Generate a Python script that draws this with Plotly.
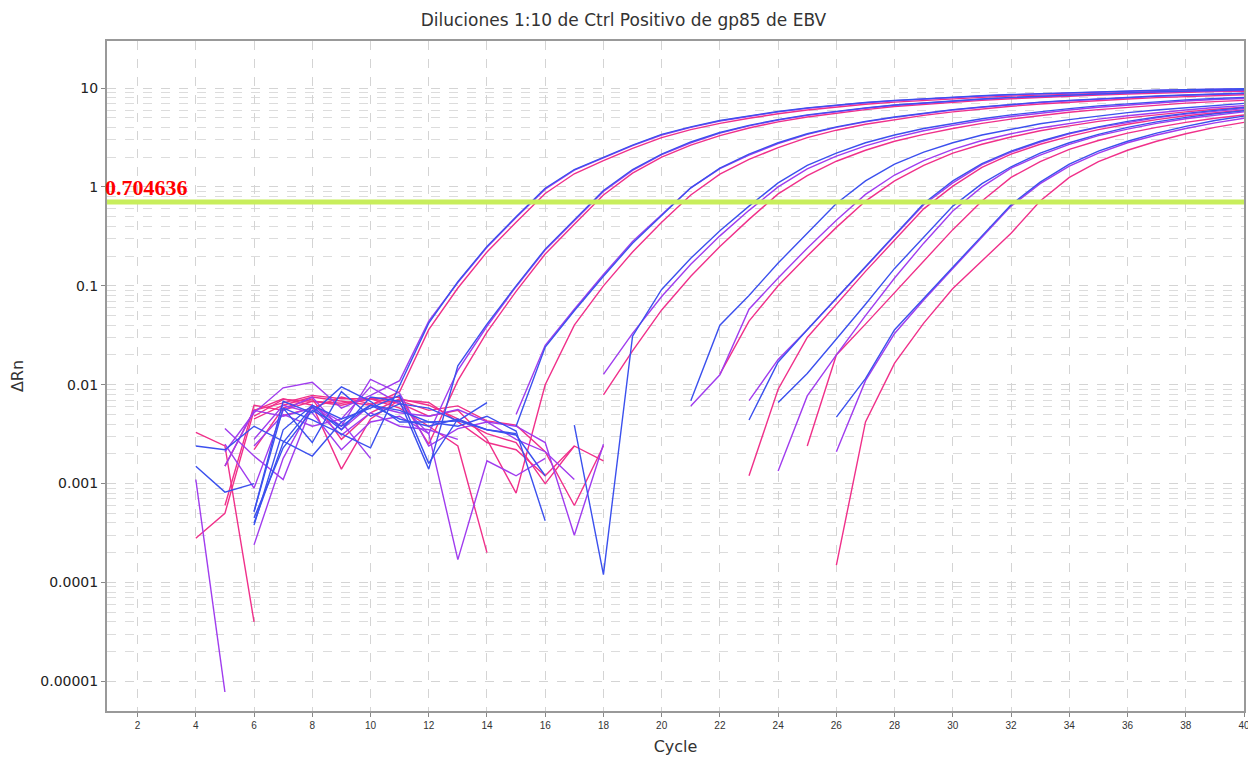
import math
import plotly.graph_objects as go

N = None
title_text = "Diluciones 1:10 de Ctrl Positivo de gp85 de EBV"
threshold = 0.704636
x_ticks = list(range(2, 41, 2))
y_ticks = [0.00001, 0.0001, 0.001, 0.01, 0.1, 1, 10]
y_tick_text = ["0.00001", "0.0001", "0.001", "0.01", "0.1", "1", "10"]

# Each well: first cycle, then ΔRn per cycle (None = not plotted, <= 0)
g1_blue_start = 6
g1_blue = [0.00052, 0.0058, 0.0044, 0.0032, 0.0023, 0.0098, 0.042, 0.11, 0.25, 0.5, 0.97, 1.5, 2.0, 2.65, 3.4,
           4.05, 4.7, 5.25, 5.8, 6.3, 6.75, 7.15, 7.5, 7.8, 8.1, 8.35, 8.6, 8.8, 9.0, 9.2, 9.35, 9.5, 9.65, 9.75, 9.85]
g1_purple_start = 5
g1_purple = [0.0021, 0.0052, 0.0093, 0.0106, 0.0058, 0.0078, 0.011, 0.044, 0.108, 0.245, 0.49, 0.95, 1.48, 1.98,
             2.62, 3.35, 4.0, 4.65, 5.2, 5.75, 6.25, 6.7, 7.1, 7.45, 7.75, 8.05, 8.3, 8.55, 8.75, 8.95, 9.15, 9.3,
             9.45, 9.6, 9.7, 9.8]
g1_pink_start = 6
g1_pink = [0.0045, 0.0062, 0.0075, 0.0068, 0.0062, 0.0085, 0.036, 0.095, 0.22, 0.44, 0.86, 1.36, 1.85, 2.45, 3.15,
           3.8, 4.4, 4.95, 5.5, 6.0, 6.45, 6.85, 7.2, 7.5, 7.8, 8.05, 8.3, 8.5, 8.7, 8.9, 9.05, 9.2, 9.35, 9.45, 9.55]

g2_blue_start = 6
g2_blue = [0.0004, 0.0026, 0.006, 0.0035, 0.0075, 0.0068, 0.0014, 0.0155, 0.041, 0.1, 0.235, 0.47, 0.92, 1.5, 2.15,
           2.85, 3.55, 4.2, 4.8, 5.35, 5.85, 6.3, 6.75, 7.1, 7.45, 7.75, 8.05, 8.3, 8.55, 8.75, 8.95, 9.15, 9.3,
           9.45, 9.6]
g2_purple_start = 6
g2_purple = [0.0024, 0.005, 0.0038, 0.0045, 0.0095, 0.0064, 0.0032, 0.014, 0.039, 0.098, 0.23, 0.46, 0.9, 1.47,
             2.12, 2.8, 3.5, 4.15, 4.75, 5.3, 5.8, 6.25, 6.7, 7.05, 7.4, 7.7, 8.0, 8.25, 8.5, 8.7, 8.9, 9.1, 9.25,
             9.4, 9.5]
g2_pink_start = 5
g2_pink = [0.0006, 0.0062, 0.0055, 0.0068, 0.0065, 0.0072, 0.0075, 0.0025, 0.011, 0.034, 0.088, 0.21, 0.42, 0.83,
           1.38, 2.0, 2.65, 3.3, 3.95, 4.55, 5.1, 5.6, 6.05, 6.5, 6.85, 7.2, 7.5, 7.8, 8.05, 8.3, 8.5, 8.7, 8.9,
           9.05, 9.2, 9.3]

g3_blue_start = 4
g3_blue = [0.0024, 0.0022, 0.0038, 0.0027, 0.0019, 0.0042, 0.0062, 0.0045, 0.0038, 0.0045, N, 0.0038, 0.024,
           0.056, 0.125, 0.27, 0.52, 0.98, 1.55, 2.15, 2.8, 3.45, 4.05, 4.6, 5.1, 5.6, 6.05, 6.45, 6.85, 7.2, 7.5,
           7.8, 8.05, 8.3, 8.5, 8.7, 8.85]
g3_purple_start = 5
g3_purple = [0.0015, 0.0055, 0.0048, 0.0058, 0.0031, 0.0052, 0.0038, 0.0035, 0.0028, N, 0.005, 0.025, 0.058, 0.13,
             0.28, 0.53, 0.98, 1.53, 2.1, 2.75, 3.4, 4.0, 4.55, 5.05, 5.55, 6.0, 6.4, 6.8, 7.15, 7.45, 7.75, 8.0,
             8.25, 8.45, 8.65, 8.8]
g3_pink_start = 4
g3_pink = [0.00028, 0.0005, 0.0055, 0.0066, 0.0078, 0.0072, 0.0072, 0.0065, 0.0048, 0.0055, 0.0028, 0.0008, 0.01,
           0.04, 0.1, 0.22, 0.44, 0.83, 1.35, 1.9, 2.5, 3.15, 3.75, 4.3, 4.8, 5.3, 5.75, 6.15, 6.55, 6.9, 7.2, 7.5,
           7.75, 8.0, 8.2, 8.4, 8.55]

g4_blue_start = 6
g4_blue = [0.00052, 0.0068, 0.0052, 0.0095, 0.0068, 0.0042, 0.0042, 0.0043, 0.0035, 0.0032, N, 0.0039, 0.00012,
           0.031, 0.092, 0.19, 0.36, 0.64, 1.1, 1.65, 2.2, 2.8, 3.35, 3.9, 4.4, 4.9, 5.35, 5.8, 6.2, 6.6, 6.95,
           7.3, 7.6, 7.85, 8.05]
g4_purple_start = 5
g4_purple = [0.0036, 0.0019, 0.0011, 0.0062, 0.0042, 0.0018, N, N, N, N, N, N, N, 0.0127, 0.033, 0.078, 0.165,
             0.32, 0.58, 1.0, 1.52, 2.05, 2.6, 3.15, 3.7, 4.2, 4.7, 5.15, 5.6, 6.0, 6.4, 6.75, 7.1, 7.4, 7.65, 7.85]
g4_pink_start = 4
g4_pink = [0.0033, 0.0024, 0.00004, N, N, N, N, N, N, N, N, N, N, N, 0.0079, 0.022, 0.057, 0.125, 0.25, 0.47,
           0.85, 1.3, 1.82, 2.35, 2.9, 3.4, 3.9, 4.4, 4.85, 5.3, 5.7, 6.05, 6.4, 6.75, 7.05, 7.3, 7.5]

g5_blue_start = 4
g5_blue = [0.0015, 0.00082, 0.001, N, N, N, N, N, N, N, N, N, N, N, N, N, N, 0.0069, 0.04, 0.08, 0.17, 0.34, 0.68,
           1.15, 1.7, 2.25, 2.8, 3.35, 3.85, 4.35, 4.8, 5.25, 5.65, 6.0, 6.35, 6.7, 7.0]
g5_purple_start = 4
g5_purple = [0.0011, 0.0000078, N, N, N, N, N, N, N, N, N, N, N, N, N, N, N, 0.0061, 0.0126, 0.058, 0.12, 0.24,
             0.46, 0.84, 1.32, 1.85, 2.4, 2.95, 3.45, 3.95, 4.4, 4.85, 5.25, 5.65, 6.0, 6.35, 6.65]
g5_pink_start = 6
g5_pink = [0.0022, 0.0058, 0.0072, 0.0028, 0.0052, 0.0072, 0.0062, 0.0045, 0.0032, 0.0026, 0.001, 0.0024, N, N,
           N, N, 0.0128, 0.044, 0.1, 0.2, 0.39, 0.72, 1.15, 1.65, 2.2, 2.7, 3.2, 3.7, 4.15, 4.6, 5.0, 5.4, 5.75,
           6.1, 6.4]

g6_blue_start = 6
g6_blue = [0.00038, 0.0035, 0.0062, 0.0045, 0.0058, 0.0078, 0.0016, 0.0045, 0.0035, 0.0031, 0.0012, N, N, N, N,
           N, N, 0.0044, 0.017, 0.036, 0.075, 0.16, 0.33, 0.68, 1.15, 1.72, 2.3, 2.9, 3.5, 4.05, 4.6, 5.1, 5.55,
           5.95, 6.35]
g6_purple_start = 6
g6_purple = [0.00024, 0.0018, 0.0062, 0.0038, 0.0113, 0.0082, 0.0024, 0.0036, 0.0042, 0.0038, 0.0026, 0.0003,
             0.0025, N, N, N, N, 0.0069, 0.018, 0.036, 0.074, 0.155, 0.32, 0.66, 1.1, 1.68, 2.25, 2.85, 3.45, 4.0,
             4.5, 5.0, 5.45, 5.85, 6.2]
g6_pink_start = 5
g6_pink = [0.0015, 0.0055, 0.0072, 0.0062, 0.0014, 0.0045, 0.007, 0.0066, 0.0042, 0.0026, 0.0022, 0.0012, 0.0024,
           0.0017, N, N, N, N, 0.0012, 0.009, 0.03, 0.064, 0.14, 0.29, 0.6, 1.02, 1.58, 2.15, 2.7, 3.25, 3.8, 4.3,
           4.8, 5.25, 5.65, 6.0]

g7_blue_start = 6
g7_blue = [0.00045, 0.0023, 0.0055, 0.0038, 0.0062, 0.0055, 0.0042, 0.0038, 0.0048, 0.0034, 0.00042, N, N, N, N,
           N, N, N, 0.0066, 0.013, 0.029, 0.065, 0.15, 0.31, 0.64, 1.08, 1.6, 2.2, 2.8, 3.4, 4.0, 4.55, 5.05, 5.5,
           5.9]
g7_purple_start = 6
g7_purple = [0.0028, 0.0062, 0.0052, 0.0022, 0.0042, 0.0048, 0.0032, 0.00017, 0.0017, 0.0012, 0.0018, N, N, N, N,
             N, N, N, 0.00134, 0.0077, 0.02, 0.05, 0.12, 0.27, 0.57, 1.0, 1.55, 2.1, 2.7, 3.3, 3.85, 4.4, 4.9,
             5.35, 5.75]
g7_pink_start = 6
g7_pink = [0.0048, 0.0071, 0.0068, 0.0062, 0.0072, 0.0058, 0.0038, 0.0024, 0.0002, N, N, N, N, N, N, N, N, N, N,
           0.0024, 0.02, 0.041, 0.085, 0.18, 0.37, 0.72, 1.25, 1.8, 2.4, 2.95, 3.5, 4.0, 4.5, 4.95, 5.35]

g8_blue_start = 7
g8_blue = [0.0058, 0.0026, 0.0085, 0.0048, 0.0064, 0.0058, 0.0043, 0.0066, N, N, N, N, N, N, N, N, N, N, N, 0.0047,
           0.0115, 0.036, 0.075, 0.155, 0.32, 0.66, 1.12, 1.7, 2.3, 2.9, 3.5, 4.1, 4.7, 5.2]
g8_purple_start = 5
g8_purple = [0.0025, 0.0009, 0.0055, 0.0075, 0.0035, 0.0062, 0.0052, 0.0048, 0.0056, 0.0042, 0.0028, 0.0021,
             0.0011, N, N, N, N, N, N, N, N, 0.0021, 0.011, 0.033, 0.072, 0.15, 0.31, 0.64, 1.08, 1.62, 2.2, 2.8,
             3.35, 3.9, 4.45, 4.95]
g8_pink_start = 7
g8_pink = [0.0049, 0.0058, 0.0075, 0.0064, 0.0069, 0.0055, 0.0061, 0.0043, 0.0039, 0.0021, 0.0006, 0.0024, N, N,
           N, N, N, N, N, 0.00015, 0.0042, 0.0165, 0.042, 0.094, 0.18, 0.34, 0.72, 1.25, 1.8, 2.35, 2.9, 3.45,
           4.0, 4.5]

BLUE = "#3b50ee"
PURPLE = "#a03cee"
PINK = "#f0308a"

wells = [
    ("G1", g1_pink_start, g1_pink, PINK), ("G2", g2_pink_start, g2_pink, PINK), ("G3", g3_pink_start, g3_pink, PINK),
    ("G4", g4_pink_start, g4_pink, PINK), ("G5", g5_pink_start, g5_pink, PINK), ("G6", g6_pink_start, g6_pink, PINK),
    ("G7", g7_pink_start, g7_pink, PINK), ("G8", g8_pink_start, g8_pink, PINK),
    ("G1", g1_purple_start, g1_purple, PURPLE), ("G2", g2_purple_start, g2_purple, PURPLE),
    ("G3", g3_purple_start, g3_purple, PURPLE), ("G4", g4_purple_start, g4_purple, PURPLE),
    ("G5", g5_purple_start, g5_purple, PURPLE), ("G6", g6_purple_start, g6_purple, PURPLE),
    ("G7", g7_purple_start, g7_purple, PURPLE), ("G8", g8_purple_start, g8_purple, PURPLE),
    ("G1", g1_blue_start, g1_blue, BLUE), ("G2", g2_blue_start, g2_blue, BLUE), ("G3", g3_blue_start, g3_blue, BLUE),
    ("G4", g4_blue_start, g4_blue, BLUE), ("G5", g5_blue_start, g5_blue, BLUE), ("G6", g6_blue_start, g6_blue, BLUE),
    ("G7", g7_blue_start, g7_blue, BLUE), ("G8", g8_blue_start, g8_blue, BLUE),
]

fig = go.Figure()
for name, start, vals, col in wells:
    xs = list(range(start, start + len(vals)))
    fig.add_trace(go.Scatter(x=xs, y=vals, mode="lines", name=name, connectgaps=False,
                             line=dict(color=col, width=1.4), showlegend=False))

minor_vals = [m * 10 ** e for e in range(-5, 1) for m in range(2, 10)]
grid_col = "#d4d4d4"
SANS = "DejaVu Sans, Arial, sans-serif"

fig.update_layout(
    width=1256, height=758,
    margin=dict(l=99, r=20, t=33, b=55),
    paper_bgcolor="white", plot_bgcolor="white",
    font=dict(family=SANS, color="#222"),
    title=dict(text=title_text, x=0.49, xanchor="center", yref="container", y=0.984, yanchor="middle",
               font=dict(family=SANS, size=17, color="#333")),
    xaxis=dict(range=[0.95, 40], tickmode="array", tickvals=x_ticks, ticks="outside", ticklen=4,
               tickcolor="#888", tickfont=dict(family="Liberation Sans, Arial, sans-serif", size=10, color="#333"),
               showgrid=True, gridcolor=grid_col,
               griddash="dash", gridwidth=1, showline=True, linecolor="#999", linewidth=2, mirror=True,
               zeroline=False, automargin=False,
               title=dict(text="Cycle", font=dict(family=SANS, size=16, color="#333"), standoff=11)),
    yaxis=dict(type="log", range=[-5.3, 1.476], tickmode="array", tickvals=y_ticks, ticktext=y_tick_text,
               ticks="outside", ticklen=4, tickcolor="#888", tickfont=dict(family=SANS, size=14, color="#222"),
               showgrid=True, gridcolor=grid_col, griddash="dash", gridwidth=1, showline=True,
               linecolor="#999", linewidth=2, mirror=True, zeroline=False, automargin=False,
               minor=dict(tickmode="array", tickvals=minor_vals, showgrid=True, gridcolor="#dcdcdc",
                          griddash="dash", gridwidth=1, ticks=""),
               title=dict(text="ΔRn", font=dict(family=SANS, size=16, color="#333"), standoff=22)),
)

fig.add_shape(type="line", xref="paper", x0=0, x1=1, yref="y", y0=threshold, y1=threshold,
              line=dict(color="#c8ee5c", width=5), layer="above")
fig.add_annotation(xref="paper", x=0, yref="y", y=math.log10(threshold), xshift=-4, yshift=0,
                   text="<b>%s</b>" % threshold, showarrow=False, xanchor="left", yanchor="bottom",
                   font=dict(family="Liberation Serif, Times New Roman, serif", size=22, color="#ff0000"))

fig.write_html("out.html")
